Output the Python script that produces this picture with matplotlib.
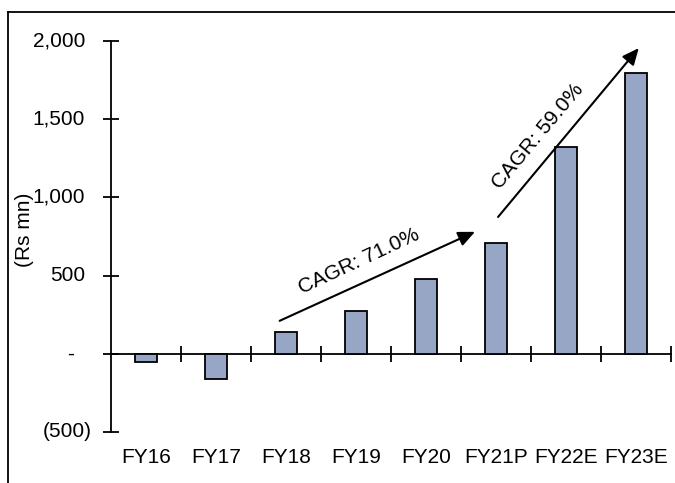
import matplotlib
matplotlib.use("Agg")
import matplotlib.pyplot as plt
from matplotlib.lines import Line2D

plt.rcParams['font.family'] = ['Liberation Sans', 'DejaVu Sans']

# Net profit by fiscal year
years = ["FY16", "FY17", "FY18", "FY19", "FY20", "FY21P", "FY22E", "FY23E"]
profit = [-55, -160, 140, 275, 480, 709, 1323, 1796]

# Value axis ticks
y_ticks = [-500, 0, 500, 1000, 1500, 2000]

# Growth annotations
cagr_labels = ["CAGR: 71.0%", "CAGR: 59.0%"]
cagr_from = [(1.91, 211), (5.03, 875)]
cagr_to = [(4.70, 780), (7.04, 1955)]

FS = 15

fig = plt.figure(figsize=(6.75, 4.83), dpi=100)
ax = fig.add_axes([0.1644, 0.1056, 0.8296, 0.8094])

x = range(len(years))
ax.bar(x, profit, width=0.31, color="#97a6c4", edgecolor="black", linewidth=1.3, zorder=3)

ax.set_xlim(-0.5, len(years) - 0.5)
ax.set_ylim(-500, 2000)
ax.set_yticks(y_ticks)
ax.set_yticklabels([])

for side in ("top", "right"):
    ax.spines[side].set_visible(False)
ax.spines["bottom"].set_position(("data", 0))
ax.spines["left"].set_linewidth(1.3)
ax.spines["bottom"].set_linewidth(1.3)

# category boundaries as x ticks crossing the axis
ax.set_xticks([i + 0.5 for i in range(len(years))])
ax.set_xticklabels([])
ax.tick_params(axis="x", direction="inout", length=12, width=1.3)
ax.tick_params(axis="y", direction="inout", length=12, width=1.3)

# accounting-style value labels: negatives in parentheses, zero as a dash
for v in y_ticks:
    if v == 0:
        label, off = "-", -37
    elif v < 0:
        label, off = f"({abs(v):,})", -19
    else:
        label, off = f"{v:,}", -26
    ax.annotate(label, xy=(0, v), xycoords=ax.get_yaxis_transform(),
                xytext=(off, 0), textcoords="offset pixels",
                ha="right", va="center", fontsize=FS)

for i, name in enumerate(years):
    ax.text(i, -0.065, name, transform=ax.get_xaxis_transform(),
            ha="center", va="center", fontsize=FS)

for (x0, y0), (x1, y1) in zip(cagr_from, cagr_to):
    ax.annotate("", xy=(x1, y1), xytext=(x0, y0),
                arrowprops=dict(arrowstyle="-|>,head_length=1.0,head_width=0.45",
                                color="black", lw=1.5, shrinkA=0, shrinkB=0),
                zorder=4)

ax.text(3.05, 590, cagr_labels[0], rotation=25, ha="center", va="center", fontsize=FS)
ax.text(5.6, 1390, cagr_labels[1], rotation=50, ha="center", va="center", fontsize=FS)

fig.text(25 / 675, 1 - 230 / 483, "(Rs mn)", rotation=90, ha="center", va="center", fontsize=FS)

# outer frame (left and top edges)
fig.add_artist(Line2D([8 / 675, 8 / 675], [0, 1 - 12 / 483], transform=fig.transFigure,
                      color="black", lw=1.3))
fig.add_artist(Line2D([8 / 675, 1], [1 - 12 / 483, 1 - 12 / 483], transform=fig.transFigure,
                      color="black", lw=1.3))

fig.savefig("out.png", dpi=100)
